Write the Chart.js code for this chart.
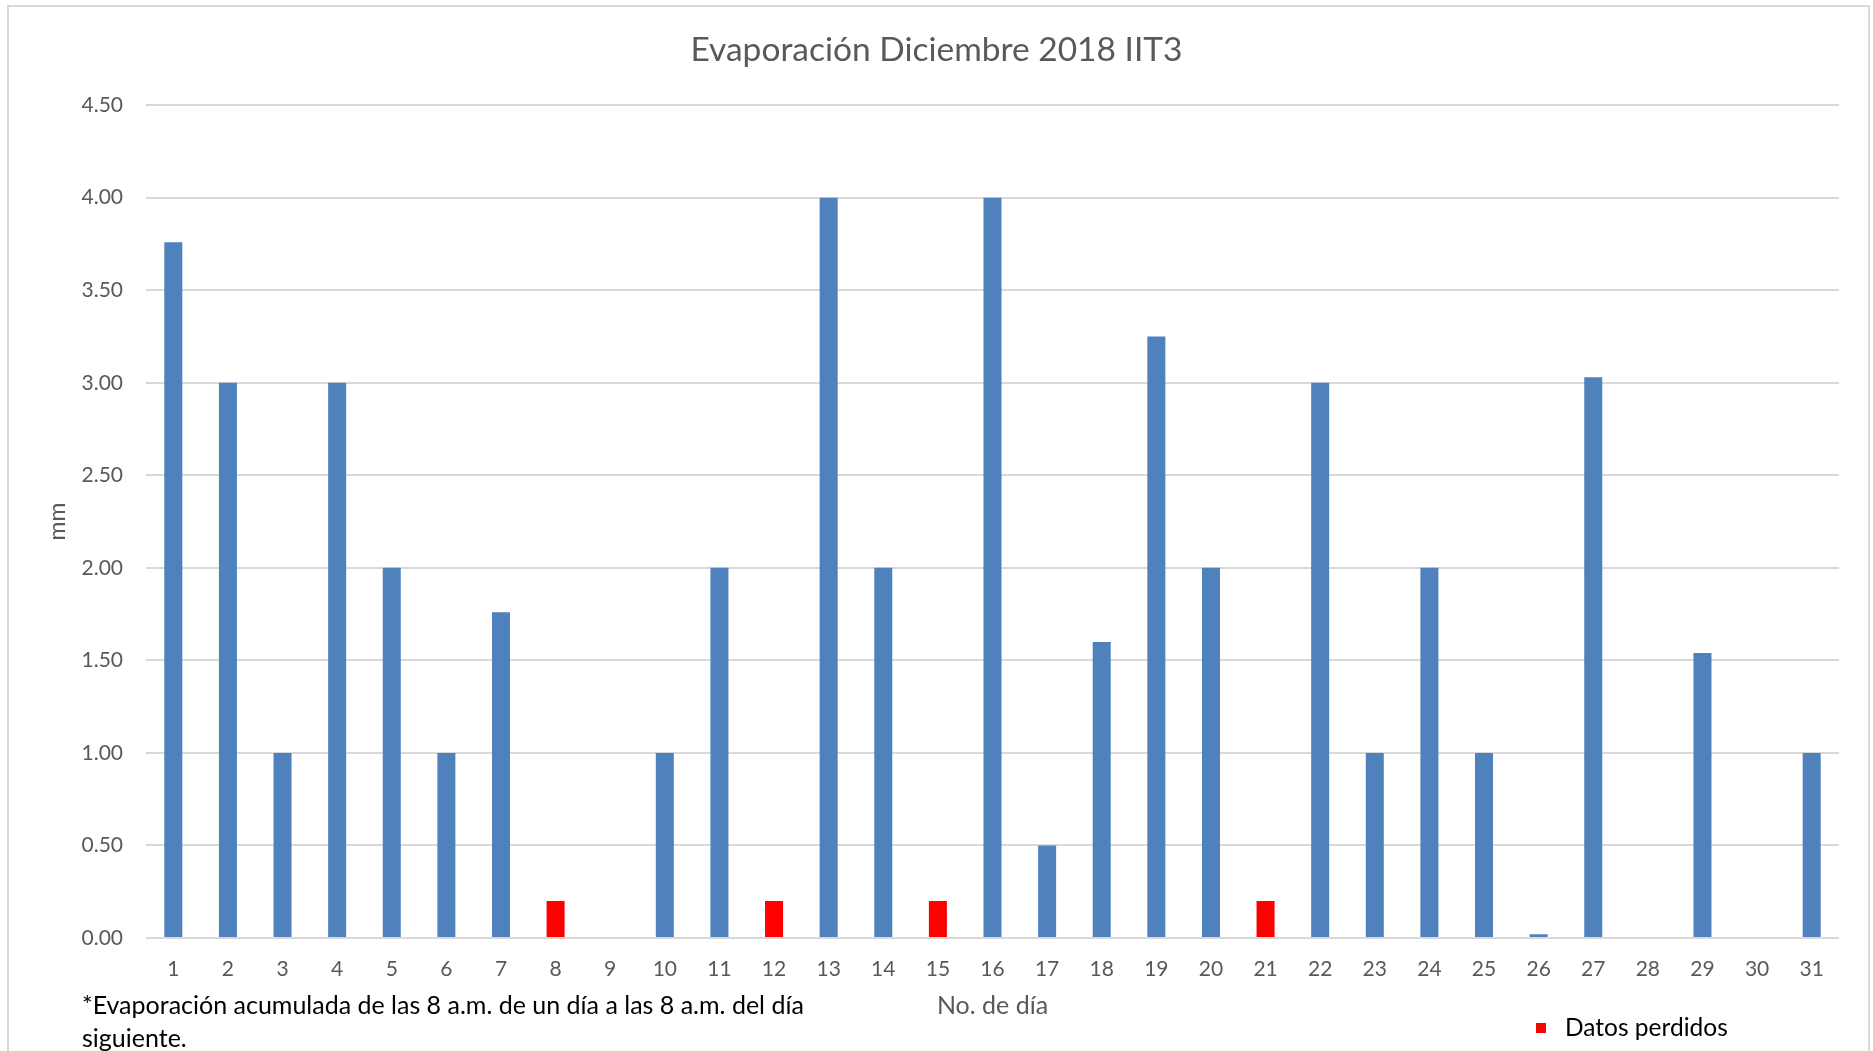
<!DOCTYPE html>
<html>
<head>
<meta charset="utf-8">
<title>Evaporación Diciembre 2018 IIT3</title>
<script src="https://cdn.jsdelivr.net/npm/chart.js@4.4.0/dist/chart.umd.min.js"></script>
<style>
  body { margin: 0; background: #fff; }
  #wrap { position: relative; width: 1873px; height: 1051px; overflow: hidden; }
  #frame {
    position: absolute; left: 7px; top: 5px; width: 1863px; height: 1100px;
    border: 2px solid #d9d9d9; box-sizing: border-box; pointer-events: none;
  }
  #note {
    position: absolute; left: 82px; top: 988px; width: 820px;
    font-family: Lato, sans-serif; font-size: 25px; line-height: 33px; color: #000;
  }
  #legend {
    position: absolute; left: 1536px; top: 1012px;
    font-family: Lato, sans-serif; font-size: 24.5px; line-height: 30px; color: #000;
  }
  #legend span.box {
    display: inline-block; width: 10px; height: 10px; background: #ff0000;
    margin-right: 19px; vertical-align: 3px;
  }
</style>
</head>
<body>
<div id="wrap">
  <canvas id="evapChart" width="1873" height="1051"></canvas>
  <div id="frame"></div>
  <div id="note">*Evaporación acumulada de las 8 a.m. de un día a las 8 a.m. del día<br>siguiente.</div>
  <div id="legend"><span class="box"></span>Datos perdidos</div>
</div>
<script>
  const days = ["1", "2", "3", "4", "5", "6", "7", "8", "9", "10", "11", "12", "13", "14", "15", "16",
    "17", "18", "19", "20", "21", "22", "23", "24", "25", "26", "27", "28", "29", "30", "31"];

  // evaporación medida (mm)
  const evaporacion = [3.76, 3.0, 1.0, 3.0, 2.0, 1.0, 1.76, null, 0, 1.0, 2.0, null, 4.0, 2.0, null, 4.0,
    0.5, 1.6, 3.25, 2.0, null, 3.0, 1.0, 2.0, 1.0, 0.02, 3.03, 0, 1.54, 0, 1.0];

  // días sin dato
  const datosPerdidos = [null, null, null, null, null, null, null, 0.2, null, null, null, 0.2, null, null, 0.2, null,
    null, null, null, null, 0.2, null, null, null, null, null, null, null, null, null, null];

  const yTicks = [0, 0.5, 1, 1.5, 2, 2.5, 3, 3.5, 4, 4.5];

  const gray = "#595959";

  const ctx = document.getElementById("evapChart");
  const evapChart = new Chart(ctx, {
    type: "bar",
    data: {
      labels: days,
      datasets: [
        {
          label: "Evaporación",
          data: evaporacion,
          backgroundColor: "#4f81bd",
          grouped: false,
          categoryPercentage: 1,
          barPercentage: 0.33,
        },
        {
          label: "Datos perdidos",
          data: datosPerdidos,
          backgroundColor: "#ff0000",
          grouped: false,
          categoryPercentage: 1,
          barPercentage: 0.33,
        },
      ],
    },
    options: {
      responsive: false,
      animation: false,
      devicePixelRatio: 1,
      layout: { padding: 0 },
      scales: {
        x: {
          afterFit: (s) => { s.height = 113; },
          grid: { display: false, drawTicks: false },
          border: { display: false },
          ticks: {
            color: gray,
            padding: 19,
            maxRotation: 0,
            autoSkip: false,
            font: { family: "Lato", size: 21 },
          },
          title: {
            display: true,
            text: "No. de día",
            color: gray,
            font: { family: "Lato", size: 25 },
            padding: { top: 0, bottom: 30 },
          },
        },
        y: {
          min: 0,
          max: 4.5,
          afterFit: (s) => { s.width = 146; },
          afterBuildTicks: (s) => { s.ticks = yTicks.map((v) => ({ value: v })); },
          grid: { color: "#d9d9d9", lineWidth: 2, drawTicks: false },
          border: { display: false },
          ticks: {
            color: gray,
            padding: 23,
            font: { family: "Lato", size: 21 },
            callback: (v) => Number(v).toFixed(2),
          },
          title: {
            display: true,
            text: "mm",
            color: gray,
            font: { family: "Lato", size: 23 },
            padding: { top: 44, bottom: 0 },
          },
        },
        // margen derecho vacío, así el título queda centrado en todo el lienzo
        yRight: {
          position: "right",
          afterFit: (s) => { s.width = 34; },
          grid: { display: false, drawTicks: false },
          border: { display: false },
          ticks: { display: false },
        },
      },
      plugins: {
        legend: { display: false },
        tooltip: { enabled: false },
        title: {
          display: true,
          text: "Evaporación Diciembre 2018 IIT3",
          color: gray,
          font: { family: "Lato", size: 33.5, weight: "normal" },
          padding: { top: 30, bottom: 35 },
        },
      },
    },
  });
</script>
</body>
</html>
